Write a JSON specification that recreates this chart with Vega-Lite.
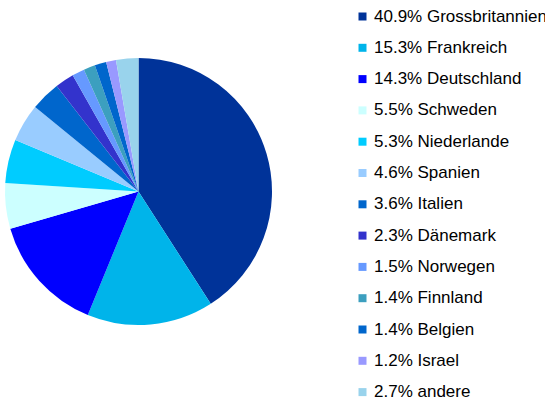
{
  "$schema": "https://vega.github.io/schema/vega-lite/v6.json",
  "width": 277,
  "height": 383,
  "padding": 0,
  "autosize": {"type": "pad"},
  "background": "white",
  "config": {"view": {"stroke": null}, "font": "Liberation Sans"},
  "data": {"values": [
    {"i": 1, "label": "40.9% Grossbritannien", "share": 40.9},
    {"i": 2, "label": "15.3% Frankreich", "share": 15.3},
    {"i": 3, "label": "14.3% Deutschland", "share": 14.3},
    {"i": 4, "label": "5.5% Schweden", "share": 5.5},
    {"i": 5, "label": "5.3% Niederlande", "share": 5.3},
    {"i": 6, "label": "4.6% Spanien", "share": 4.6},
    {"i": 7, "label": "3.6% Italien", "share": 3.6},
    {"i": 8, "label": "2.3% Dänemark", "share": 2.3},
    {"i": 9, "label": "1.5% Norwegen", "share": 1.5},
    {"i": 10, "label": "1.4% Finnland", "share": 1.4},
    {"i": 11, "label": "1.4% Belgien", "share": 1.4},
    {"i": 12, "label": "1.2% Israel", "share": 1.2},
    {"i": 13, "label": "2.7% andere", "share": 2.7}
  ]},
  "mark": {"type": "arc", "outerRadius": 133.5},
  "encoding": {
    "theta": {"field": "share", "type": "quantitative", "stack": true},
    "order": {"field": "i", "type": "quantitative"},
    "color": {
      "field": "label",
      "type": "nominal",
      "scale": {
        "domain": ["40.9% Grossbritannien", "15.3% Frankreich", "14.3% Deutschland", "5.5% Schweden", "5.3% Niederlande", "4.6% Spanien", "3.6% Italien", "2.3% Dänemark", "1.5% Norwegen", "1.4% Finnland", "1.4% Belgien", "1.2% Israel", "2.7% andere"],
        "range": ["#003399", "#00B4EA", "#0000FF", "#CCFFFF", "#00CCFF", "#99CCFF", "#0066CC", "#3333CC", "#6699FF", "#3C9FBF", "#0066CC", "#9999FF", "#99D3EC"]
      },
      "legend": {
        "title": null,
        "orient": "none",
        "legendX": 354,
        "legendY": 8,
        "symbolType": "square",
        "symbolSize": 64,
        "symbolStrokeWidth": 0,
        "labelFont": "Liberation Sans",
        "labelFontSize": 17,
        "labelColor": "#000000",
        "labelOffset": 3,
        "rowPadding": 13.3,
        "labelLimit": 300,
        "padding": 0
      }
    }
  }
}
